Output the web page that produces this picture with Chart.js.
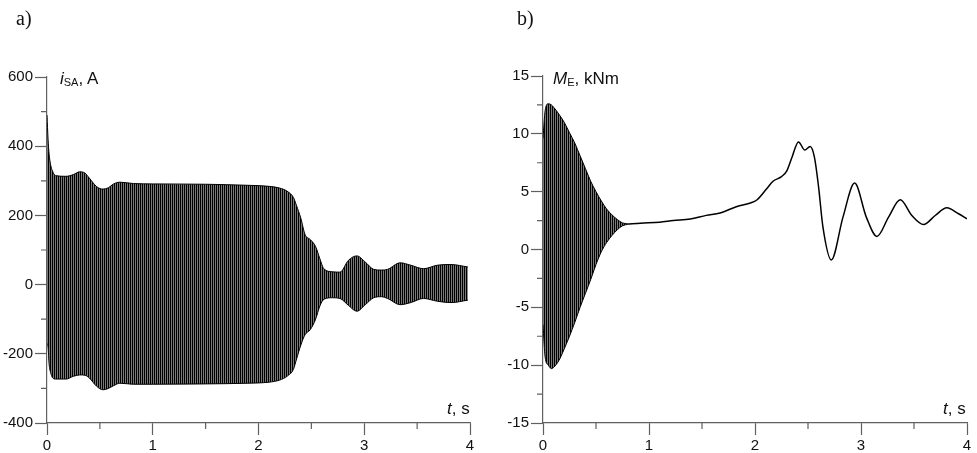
<!DOCTYPE html>
<html>
<head>
<meta charset="utf-8">
<script src="https://cdn.jsdelivr.net/npm/chart.js@4.4.1/dist/chart.umd.min.js"></script>
<style>
body{margin:0;background:#fff;width:977px;height:453px;position:relative;overflow:hidden;font-family:'Liberation Sans',Arial,sans-serif;}
canvas{position:absolute;top:0}
#cA{left:0}
#cB{left:488px}
.lbl{position:absolute;font-size:17px;color:#111;white-space:nowrap;line-height:17px}
.lbl sub{font-size:11px;vertical-align:-2px;line-height:0}
.pan{position:absolute;font-family:'Liberation Serif','Times New Roman',serif;font-size:20px;color:#111;line-height:20px}
</style>
</head>
<body>
<canvas id="cA" width="488" height="453"></canvas>
<canvas id="cB" width="489" height="453"></canvas>
<div class="pan" style="left:16px;top:8px">a)</div>
<div class="pan" style="left:517px;top:8px">b)</div>
<div class="lbl" style="left:60px;top:70px"><i>i</i><sub>SA</sub>, A</div>
<div class="lbl" style="left:553px;top:70px"><i>M</i><sub>E</sub>, kNm</div>
<div class="lbl" style="left:447px;top:400px"><i>t</i>, s</div>
<div class="lbl" style="left:943px;top:400px"><i>t</i>, s</div>
<script>
// a) stator current i_SA - peaks of the 50 Hz oscillation (envelope), A
const tA     = [0, 0.01, 0.02, 0.035, 0.05, 0.08, 0.18, 0.25, 0.31, 0.36, 0.40, 0.47, 0.53, 0.58, 0.63, 0.69, 0.82, 1.0, 1.5, 1.9, 2.1, 2.2, 2.27, 2.33, 2.36, 2.40, 2.44, 2.49, 2.54, 2.58, 2.62, 2.70, 2.77, 2.85, 2.93, 3.01, 3.09, 3.16, 3.22, 3.34, 3.44, 3.56, 3.69, 3.82, 3.98];
const iUpper = [490, 420, 377, 345, 330, 315, 313, 318, 326, 322, 308, 283, 276, 280, 291, 296, 292, 291, 290, 287, 284, 279, 270, 252, 228, 192, 145, 130, 110, 75, 45, 37, 36, 70, 83, 65, 44, 42, 44, 63, 56, 46, 56, 58, 51];
const iLower = [-170, -180, -230, -255, -268, -273, -273, -265, -261, -262, -270, -294, -304, -300, -292, -285, -288, -288, -287, -285, -282, -276, -265, -245, -215, -175, -145, -130, -100, -62, -42, -38, -40, -60, -77, -58, -38, -35, -40, -58, -52, -40, -48, -52, -45];

// b) electromagnetic torque M_E, kNm - oscillating start (envelope) then smooth part
const tB     = [0, 0.02, 0.05, 0.08, 0.1, 0.15, 0.2, 0.25, 0.3, 0.35, 0.4, 0.45, 0.5, 0.55, 0.6, 0.65, 0.7, 0.75, 0.8];
const mUpper = [9.6, 12.0, 12.6, 12.5, 12.3, 11.7, 11.0, 10.1, 9.2, 8.1, 7.0, 5.9, 5.0, 4.2, 3.5, 3.0, 2.6, 2.3, 2.22];
const mLower = [-6.5, -9.3, -10.0, -10.3, -10.2, -9.6, -8.6, -7.5, -6.3, -5.0, -3.8, -2.6, -1.3, -0.2, 0.6, 1.2, 1.7, 2.05, 2.18];
const tLine  = [0.8, 0.92, 1.1, 1.23, 1.39, 1.54, 1.67, 1.83, 1.95, 2.02, 2.11, 2.17, 2.25, 2.30, 2.35, 2.41, 2.47, 2.52, 2.56, 2.60, 2.64, 2.72, 2.83, 2.94, 3.05, 3.15, 3.26, 3.37, 3.48, 3.59, 3.70, 3.81, 3.92, 4.0];
const mLine  = [2.2, 2.28, 2.36, 2.5, 2.63, 2.95, 3.15, 3.72, 4.0, 4.3, 5.25, 5.9, 6.3, 6.8, 8.0, 9.3, 8.6, 8.9, 8.0, 5.4, 2.0, -0.9, 2.8, 5.74, 2.8, 1.13, 2.8, 4.3, 2.94, 2.16, 2.94, 3.6, 3.09, 2.65];

const xTicks  = [0, 1, 2, 3, 4];
const xMinor  = [0.5, 1.5, 2.5, 3.5];
const yTicksA = [-400, -200, 0, 200, 400, 600];
const yMinorA = [-300, -100, 100, 300, 500];
const yTicksB = [-15, -10, -5, 0, 5, 10, 15];
const yMinorB = [-12.5, -7.5, -2.5, 2.5, 7.5, 12.5];

const axisColor = '#606060';
const fontFam = "'Liberation Sans', Arial, sans-serif";

// dense vertical stripes, looks like the unresolved 50 Hz lines
const pc = document.createElement('canvas');
pc.width = 2; pc.height = 1;
const pctx = pc.getContext('2d');
pctx.fillStyle = '#000'; pctx.fillRect(0, 0, 1, 1);
pctx.fillStyle = '#7a7a7a'; pctx.fillRect(1, 0, 1, 1);
const stripes = pctx.createPattern(pc, 'repeat');

function toPts(xs, ys) {
  return xs.map((x, i) => ({x: x, y: ys[i]}));
}

function minorPlugin(xm, ym) {
  return {
    id: 'minorTicks',
    afterDraw(chart) {
      const ctx = chart.ctx, a = chart.chartArea;
      ctx.save();
      ctx.strokeStyle = axisColor;
      ctx.lineWidth = 1.2;
      ctx.beginPath();
      xm.forEach(v => {
        const px = chart.scales.x.getPixelForValue(v);
        ctx.moveTo(px, a.bottom);
        ctx.lineTo(px, a.bottom + 6);
      });
      ym.forEach(v => {
        const py = chart.scales.y.getPixelForValue(v);
        ctx.moveTo(a.left, py);
        ctx.lineTo(a.left - 6, py);
      });
      ctx.stroke();
      ctx.restore();
    }
  };
}

function scales(yMin, yMax, yTicks, yWidth) {
  const grid = {drawOnChartArea: false, tickLength: 12, color: axisColor, tickColor: axisColor, tickWidth: 1.2};
  const border = {color: axisColor, width: 1.2};
  const ticks = {padding: 2, color: '#111', font: {family: fontFam, size: 15}, maxRotation: 0, autoSkip: false};
  return {
    x: {
      type: 'linear', min: 0, max: 4,
      afterBuildTicks: s => { s.ticks = xTicks.map(v => ({value: v})); },
      afterFit: s => { s.height = 30; },
      grid: grid, border: border, ticks: ticks
    },
    y: {
      type: 'linear', min: yMin, max: yMax,
      afterBuildTicks: s => { s.ticks = yTicks.map(v => ({value: v})); },
      afterFit: s => { s.width = yWidth; },
      grid: grid, border: border, ticks: ticks
    }
  };
}

const common = {
  responsive: false,
  animation: false,
  events: [],
  plugins: {legend: {display: false}, tooltip: {enabled: false}}
};

// chart a)
new Chart(document.getElementById('cA'), {
  type: 'line',
  data: {
    datasets: [
      {data: toPts(tA, iUpper), borderColor: '#000', borderWidth: 1, pointRadius: 0, fill: false, cubicInterpolationMode: 'monotone'},
      {data: toPts(tA, iLower), borderColor: '#000', borderWidth: 1, pointRadius: 0, fill: '-1', backgroundColor: stripes, cubicInterpolationMode: 'monotone'}
    ]
  },
  options: Object.assign({}, common, {
    layout: {padding: {top: 77, right: 18, bottom: 0, left: 0}},
    scales: scales(-400, 600, yTicksA, 47)
  }),
  plugins: [minorPlugin(xMinor, yMinorA)]
});

// chart b)
new Chart(document.getElementById('cB'), {
  type: 'line',
  data: {
    datasets: [
      {data: toPts(tB, mUpper), borderColor: '#000', borderWidth: 1, pointRadius: 0, fill: false, cubicInterpolationMode: 'monotone'},
      {data: toPts(tB, mLower), borderColor: '#000', borderWidth: 1, pointRadius: 0, fill: '-1', backgroundColor: stripes, cubicInterpolationMode: 'monotone'},
      {data: toPts(tLine, mLine), borderColor: '#000', borderWidth: 1.5, pointRadius: 0, fill: false, cubicInterpolationMode: 'monotone'}
    ]
  },
  options: Object.assign({}, common, {
    layout: {padding: {top: 76, right: 10, bottom: 0, left: 0}},
    scales: scales(-15, 15, yTicksB, 55)
  }),
  plugins: [minorPlugin(xMinor, yMinorB)]
});
</script>
</body>
</html>
